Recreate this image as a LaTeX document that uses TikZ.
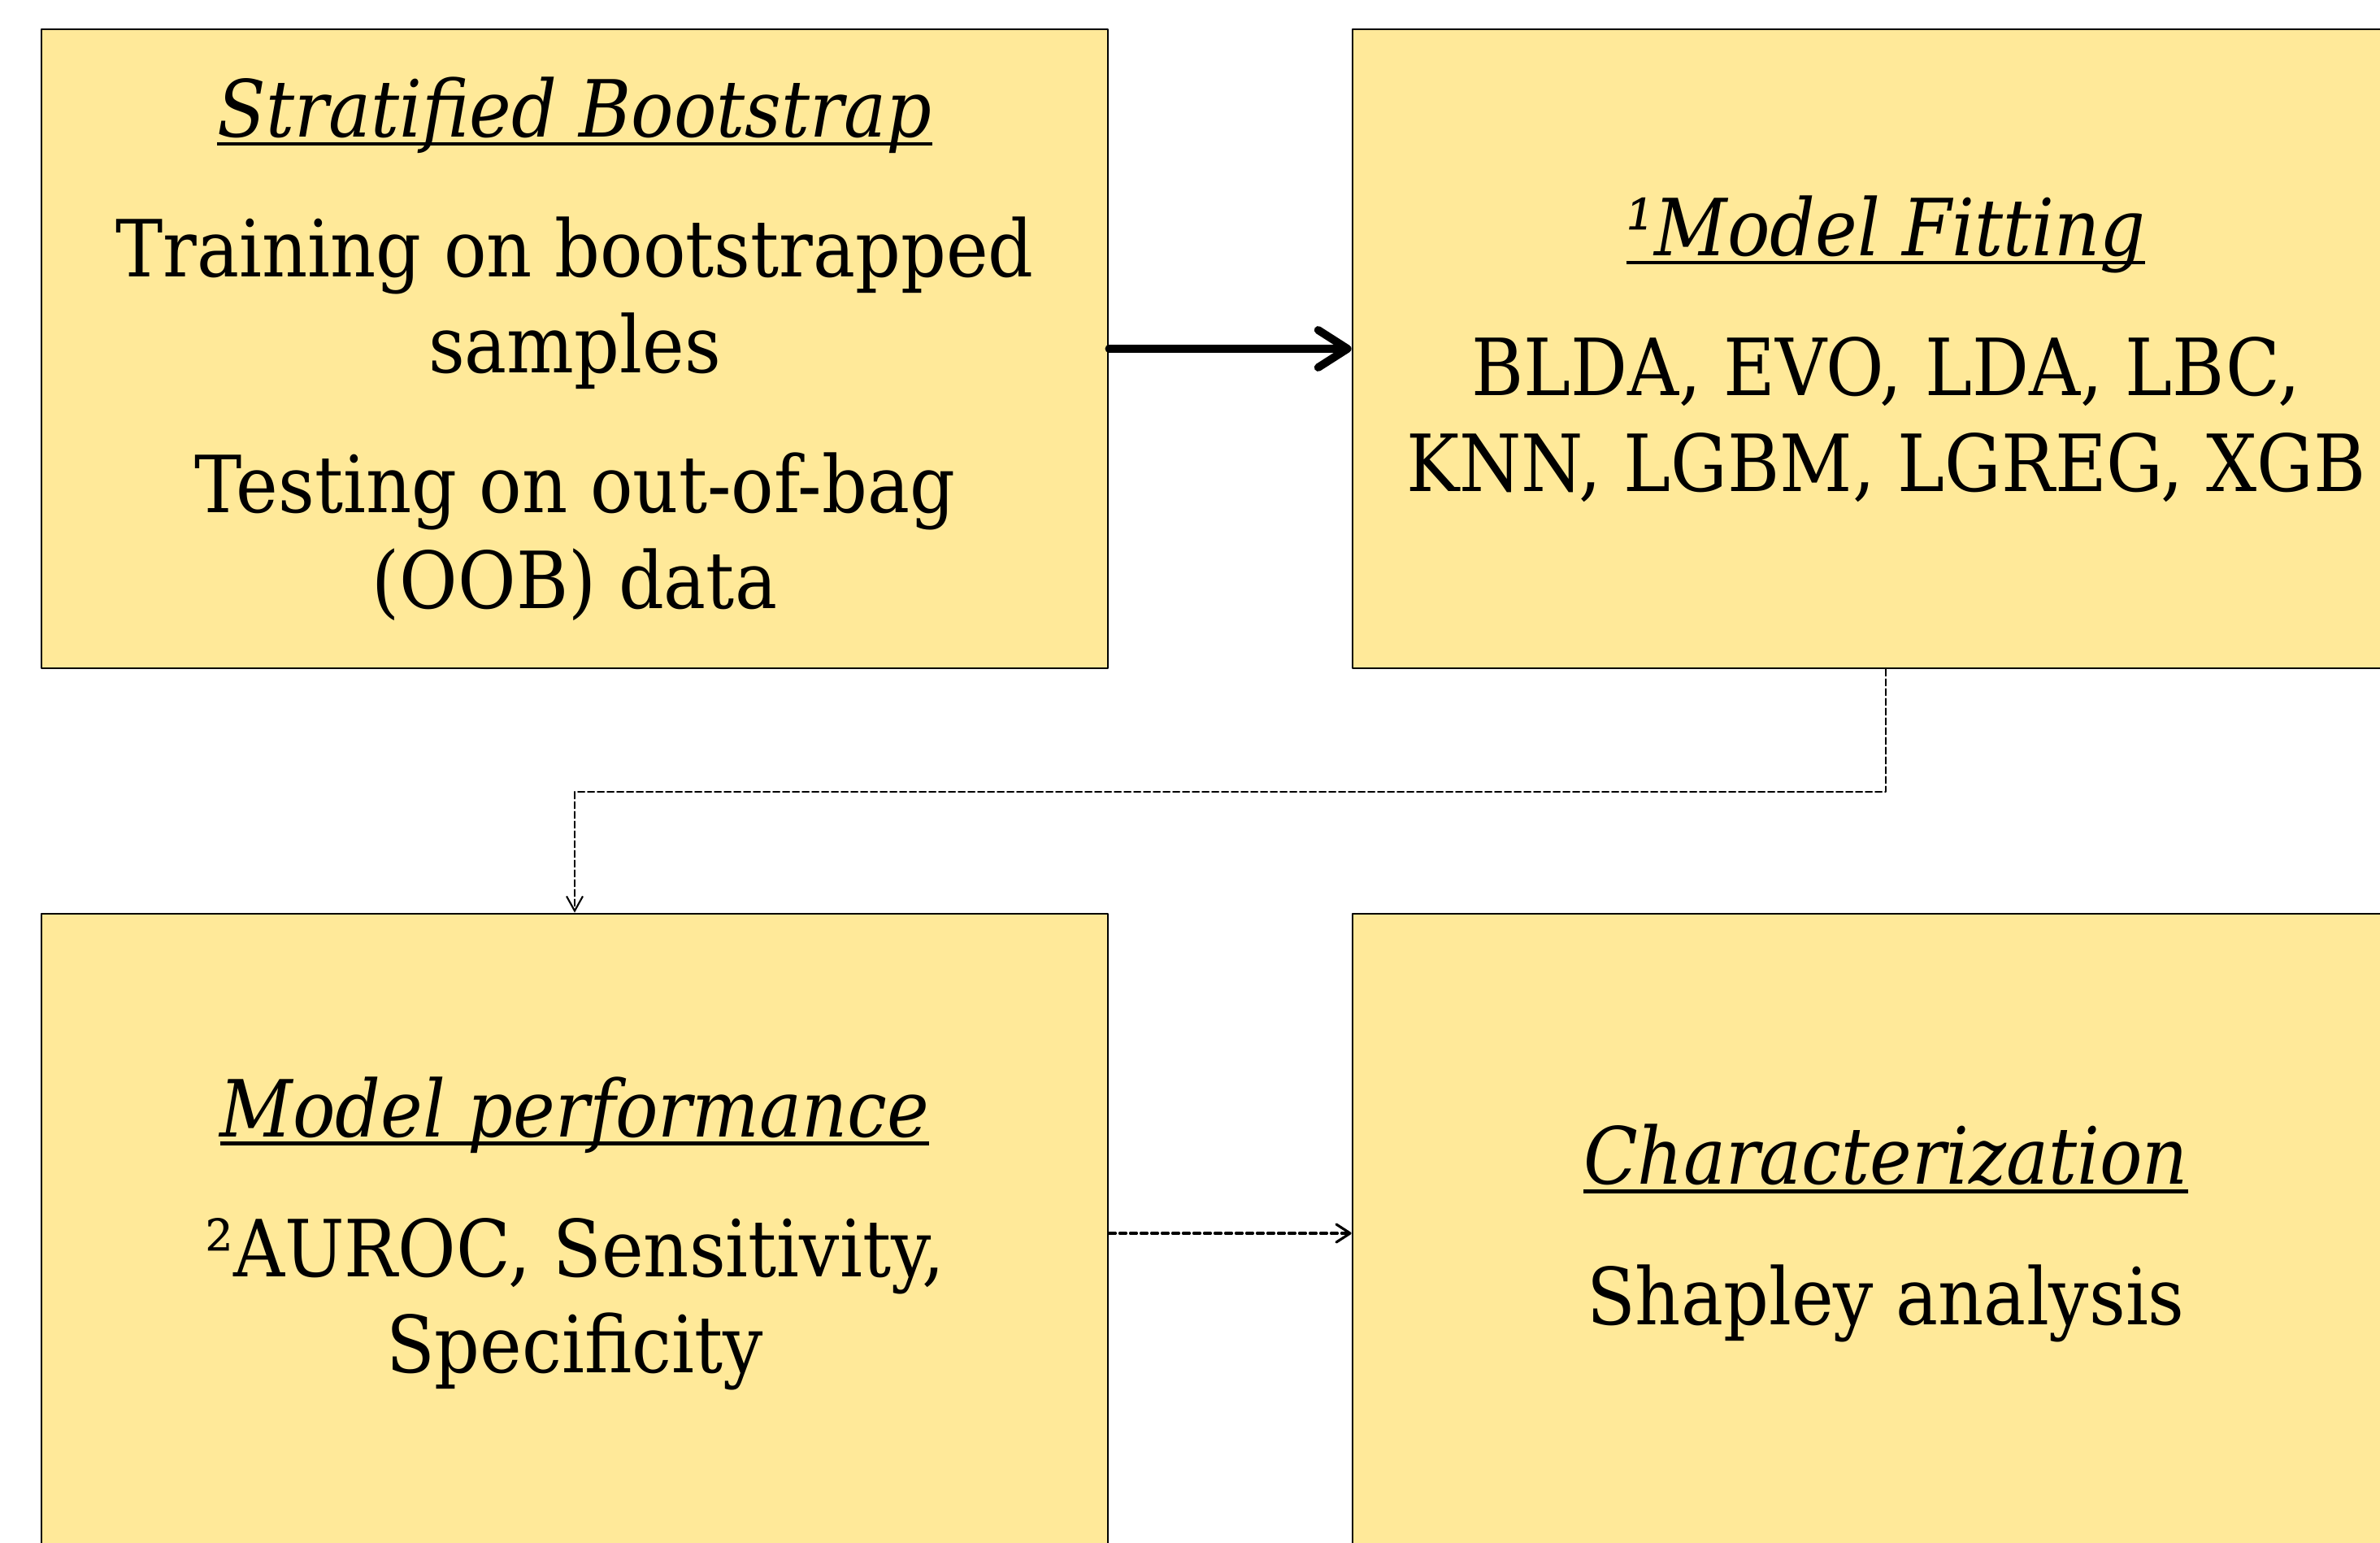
\documentclass[tikz,border=0pt]{standalone}
\usepackage{fontspec}
\setmainfont{DejaVu Serif}[FakeStretch=0.9]
\usetikzlibrary{arrows.meta}
\definecolor{boxyellow}{HTML}{FFE999}
\newcommand{\ulined}[1]{\setbox0\hbox{#1}\rlap{\rule[-0.11em]{\wd0}{0.045em}}\box0}
\begin{document}
\begin{tikzpicture}[line join=round, line cap=round,
  stage/.style={draw, fill=boxyellow, line width=0.8pt, minimum width=13.12cm,
    minimum height=7.86cm, align=center, inner sep=0pt,
    font=\fontsize{27.6}{33.5}\selectfont},
  mainflow/.style={line width=2.8pt, -{Straight Barb[round, length=0.36cm, width=0.46cm]}},
  sideflow/.style={line width=0.6pt, dash pattern=on 0.08cm off 0.04cm,
    -{Straight Barb[length=0.18cm, width=0.2cm]}},
  nextflow/.style={line width=0.9pt, dash pattern=on 0.08cm off 0.05cm,
    -{Straight Barb[round, length=0.17cm, width=0.22cm]}}]
\def\xmax{29.28} \def\ymin{-18.97}
\useasboundingbox (0,0) rectangle (\xmax,\ymin);
\clip (0,0) rectangle (\xmax,\ymin);
% the four stages
\node[stage] (boot) at (7.07,-4.29) {\ulined{\textit{Stratified Bootstrap}}\\[15.5pt]
  Training on bootstrapped\\ samples\\[15.5pt] Testing on out-of-bag\\ (OOB) data};
\node[stage] (fit) at (23.20,-4.29) {\ulined{\textit{¹Model Fitting}}\\[15.5pt]
  BLDA, EVO, LDA, LBC,\\ KNN, LGBM, LGREG, XGB};
\node[stage] (perf) at (7.07,-15.17) {\ulined{\textit{Model performance}}\\[15.5pt]
  ²AUROC, Sensitivity,\\ Specificity};
\node[stage] (shap) at (23.20,-15.17) {\ulined{\textit{Characterization}}\\[15.5pt]
  Shapley analysis};
% connectors
\draw[mainflow] (boot.east) -- (fit.west);
\draw[sideflow] (fit.south) -- ++(0,-1.51) -| (perf.north);
\draw[nextflow] (perf.east) -- (shap.west);
\end{tikzpicture}
\end{document}
